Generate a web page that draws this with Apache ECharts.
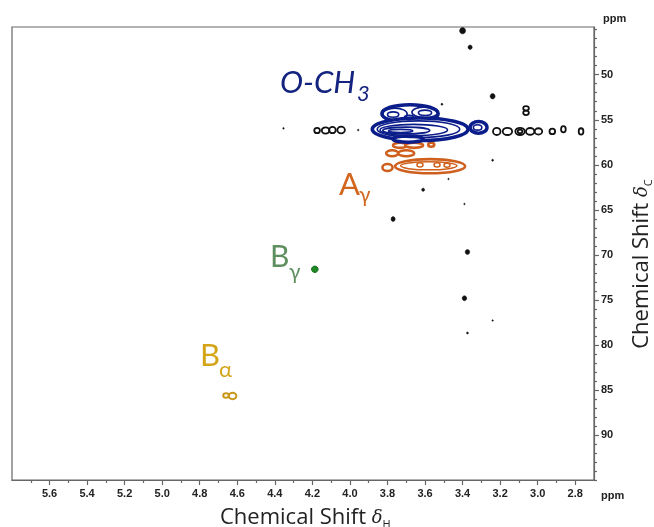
<!DOCTYPE html>
<html>
<head>
<meta charset="utf-8">
<script src="https://cdn.jsdelivr.net/npm/echarts@6/dist/echarts.min.js"></script>
<style>
  html, body { margin: 0; padding: 0; background: #fff; }
  #main { width: 654px; height: 527px; }
</style>
</head>
<body>
<div id="main"></div>
<script>
// axis ticks (ppm)
var xMajorTicks = [5.6, 5.4, 5.2, 5.0, 4.8, 4.6, 4.4, 4.2, 4.0, 3.8, 3.6, 3.4, 3.2, 3.0, 2.8];
var xMinorTicks = [5.7, 5.5, 5.3, 5.1, 4.9, 4.7, 4.5, 4.3, 4.1, 3.9, 3.7, 3.5, 3.3, 3.1, 2.9];
var yMajorTicks = [50, 55, 60, 65, 70, 75, 80, 85, 90];
var yMinorTicks = [45, 46, 47, 48, 49, 51, 52, 53, 54, 56, 57, 58, 59, 61, 62, 63, 64, 66, 67, 68, 69,
                   71, 72, 73, 74, 76, 77, 78, 79, 81, 82, 83, 84, 86, 87, 88, 89, 91, 92, 93, 94, 95];

// contour peaks: [deltaH, deltaC, widthH, widthC] (ppm)
var blackRings = [
  [4.175, 56.19, 0.030, 0.6], [4.130, 56.19, 0.040, 0.7], [4.093, 56.14, 0.035, 0.7], [4.047, 56.14, 0.040, 0.75],
  [3.218, 56.29, 0.040, 0.8], [3.161, 56.29, 0.050, 0.8], [3.094, 56.29, 0.050, 0.8], [3.094, 56.29, 0.025, 0.4],
  [3.040, 56.29, 0.045, 0.75], [2.996, 56.29, 0.040, 0.7], [2.922, 56.29, 0.030, 0.6], [2.863, 56.05, 0.025, 0.7],
  [2.769, 56.29, 0.025, 0.7], [3.062, 53.73, 0.030, 0.5], [3.062, 54.23, 0.030, 0.5]
];
var blackDots = [
  [3.40, 45.11, 0.032, 0.7], [3.36, 46.95, 0.022, 0.5], [3.24, 52.39, 0.026, 0.6], [3.51, 53.28, 0.010, 0.22],
  [3.24, 59.5, 0.010, 0.22], [3.475, 61.58, 0.008, 0.18], [3.61, 62.77, 0.016, 0.35], [3.39, 64.35, 0.008, 0.18],
  [3.77, 66.03, 0.022, 0.55], [3.374, 69.68, 0.024, 0.55], [3.39, 74.82, 0.024, 0.55], [3.24, 77.29, 0.008, 0.18],
  [3.374, 78.68, 0.010, 0.22], [4.354, 55.95, 0.008, 0.2], [3.956, 56.14, 0.008, 0.2]
];
var ochOuter = [
  [3.68, 54.32, 0.30, 2.0], [3.626, 56.05, 0.51, 2.5], [3.69, 57.14, 0.16, 0.7], [3.315, 55.85, 0.09, 1.3]
];
var ochInner = [
  [3.635, 56.05, 0.44, 1.85], [3.66, 56.14, 0.36, 1.25], [3.70, 56.19, 0.25, 0.75], [3.73, 56.24, 0.13, 0.35],
  [3.76, 54.36, 0.13, 1.3], [3.60, 54.17, 0.14, 1.2], [3.77, 54.42, 0.06, 0.6], [3.60, 54.23, 0.07, 0.6],
  [3.685, 54.76, 0.05, 0.5], [3.32, 55.85, 0.045, 0.6]
];
var aGammaOuter = [
  [3.733, 57.84, 0.075, 0.56], [3.658, 57.84, 0.096, 0.56], [3.567, 57.78, 0.032, 0.45],
  [3.775, 58.72, 0.064, 0.67], [3.700, 58.72, 0.085, 0.67],
  [3.573, 60.16, 0.373, 1.57], [3.800, 60.3, 0.054, 0.79]
];
var aGammaInner = [
  [3.58, 60.11, 0.30, 0.9], [3.627, 60.01, 0.032, 0.45], [3.536, 60.01, 0.032, 0.45], [3.483, 60.06, 0.032, 0.45]
];
var bGamma = [[4.187, 71.6, 0.035, 0.7]];
var bAlpha = [[4.66, 85.62, 0.03, 0.5], [4.625, 85.67, 0.04, 0.7]];

var NAVY = '#0b1d8a', ORANGE = '#cf5f1c', GREEN = '#1d8a25', GOLD = '#c9971a';

var myChart = echarts.init(document.getElementById('main'));

function contourSeries(data, fill, stroke, lw) {
  return {
    type: 'custom',
    xAxisIndex: 0,
    yAxisIndex: 0,
    encode: { x: 0, y: 1 },
    data: data,
    renderItem: function (params, api) {
      var c = api.coord([api.value(0), api.value(1)]);
      var s = api.size([api.value(2), api.value(3)]);
      return {
        type: 'ellipse',
        shape: { cx: c[0], cy: c[1], rx: s[0] / 2, ry: s[1] / 2 },
        style: { fill: fill, stroke: stroke, lineWidth: lw }
      };
    }
  };
}

var tickFont = { color: '#222', fontSize: 11, fontWeight: 'bold', fontFamily: 'Liberation Sans, Arial, sans-serif' };
var axisLineStyle = { color: '#666', width: 1.2 };

var option = {
  animation: false,
  grid: { left: 12, right: 60, top: 27, bottom: 47, show: true, borderColor: '#666', borderWidth: 1.2 },
  xAxis: [{
    type: 'value', min: 2.7, max: 5.8, inverse: true, position: 'bottom',
    axisLine: { show: true, lineStyle: axisLineStyle },
    axisTick: { show: true, customValues: xMajorTicks, length: 5, lineStyle: axisLineStyle },
    axisLabel: Object.assign({ customValues: xMajorTicks, margin: 8, formatter: function (v) { return v.toFixed(1); } }, tickFont),
    splitLine: { show: false }
  }, {
    type: 'value', min: 2.7, max: 5.8, inverse: true, position: 'bottom',
    axisLine: { show: false },
    axisTick: { show: true, customValues: xMinorTicks, length: 3, lineStyle: axisLineStyle },
    axisLabel: { show: false },
    splitLine: { show: false }
  }],
  yAxis: [{
    type: 'value', min: 44.7, max: 95, inverse: true, position: 'right',
    axisLine: { show: true, lineStyle: axisLineStyle },
    axisTick: { show: true, customValues: yMajorTicks, length: 5, lineStyle: axisLineStyle },
    axisLabel: Object.assign({ customValues: yMajorTicks, margin: 7 }, tickFont),
    splitLine: { show: false }
  }, {
    type: 'value', min: 44.7, max: 95, inverse: true, position: 'right',
    axisLine: { show: false },
    axisTick: { show: true, customValues: yMinorTicks, length: 3, lineStyle: axisLineStyle },
    axisLabel: { show: false },
    splitLine: { show: false }
  }],
  graphic: [
    { type: 'text', x: 603, y: 19, style: { text: 'ppm', fill: '#222', fontSize: 11, fontWeight: 'bold', fontFamily: 'Liberation Sans, Arial, sans-serif', verticalAlign: 'middle' } },
    { type: 'text', x: 601, y: 496, style: { text: 'ppm', fill: '#222', fontSize: 11, fontWeight: 'bold', fontFamily: 'Liberation Sans, Arial, sans-serif', verticalAlign: 'middle' } },
    { type: 'text', x: 220, y: 518, style: {
        text: '{t|Chemical Shift }{d|δ}{s|H}', verticalAlign: 'middle',
        rich: {
          t: { fontSize: 22, fontFamily: 'Open Sans, sans-serif', fill: '#222', lineHeight: 24 },
          d: { fontSize: 18, fontFamily: 'DejaVu Serif, serif', fontStyle: 'italic', fill: '#222' },
          s: { fontSize: 11, fontFamily: 'Open Sans, sans-serif', fill: '#222', verticalAlign: 'bottom' }
        } } },
    { type: 'text', x: 642, y: 264, rotation: Math.PI / 2, style: {
        text: '{t|Chemical Shift }{d|δ}{s|C}', align: 'center', verticalAlign: 'middle',
        rich: {
          t: { fontSize: 22, fontFamily: 'Open Sans, sans-serif', fill: '#222', lineHeight: 24 },
          d: { fontSize: 18, fontFamily: 'DejaVu Serif, serif', fontStyle: 'italic', fill: '#222' },
          s: { fontSize: 11, fontFamily: 'Open Sans, sans-serif', fill: '#222', verticalAlign: 'bottom' }
        } } },
    // peak labels
    { type: 'text', x: 280, y: 83, style: { text: 'O-CH', fill: '#14237f', fontSize: 31, fontStyle: 'italic', fontFamily: 'Lato, Open Sans, sans-serif', verticalAlign: 'middle' } },
    { type: 'text', x: 357, y: 94, style: { text: '3', fill: '#14237f', fontSize: 22, fontStyle: 'italic', fontFamily: 'Lato, Open Sans, sans-serif', verticalAlign: 'middle' } },
    { type: 'text', x: 339, y: 185, style: { text: 'A', fill: '#d2661f', fontSize: 31, fontFamily: 'Lato, Open Sans, sans-serif', verticalAlign: 'middle' } },
    { type: 'text', x: 359, y: 195, style: { text: 'γ', fill: '#d2661f', fontSize: 21, fontFamily: 'Lato, Open Sans, sans-serif', verticalAlign: 'middle' } },
    { type: 'text', x: 270, y: 257, style: { text: 'B', fill: '#5e8f5e', fontSize: 30, fontFamily: 'Lato, Open Sans, sans-serif', verticalAlign: 'middle' } },
    { type: 'text', x: 289, y: 272, style: { text: 'γ', fill: '#5e8f5e', fontSize: 21, fontFamily: 'Lato, Open Sans, sans-serif', verticalAlign: 'middle' } },
    { type: 'text', x: 200, y: 356, style: { text: 'B', fill: '#d4a419', fontSize: 31, fontFamily: 'Lato, Open Sans, sans-serif', verticalAlign: 'middle' } },
    { type: 'text', x: 219, y: 370, style: { text: 'α', fill: '#d4a419', fontSize: 22, fontFamily: 'Lato, Open Sans, sans-serif', verticalAlign: 'middle' } }
  ],
  series: [
    contourSeries(blackRings, 'none', '#111', 1.8),
    contourSeries(blackDots, '#111', '#111', 0.5),
    contourSeries(aGammaOuter, '#fff', ORANGE, 2.6),
    contourSeries(aGammaInner, 'none', ORANGE, 1.5),
    contourSeries(ochOuter, '#fff', NAVY, 3.5),
    contourSeries(ochInner, 'none', NAVY, 1.6),
    contourSeries(bGamma, GREEN, '#146b1a', 1),
    contourSeries(bAlpha, 'none', GOLD, 2)
  ]
};

myChart.setOption(option);
window.addEventListener('resize', function () {
  myChart.resize();
});
</script>
</body>
</html>
